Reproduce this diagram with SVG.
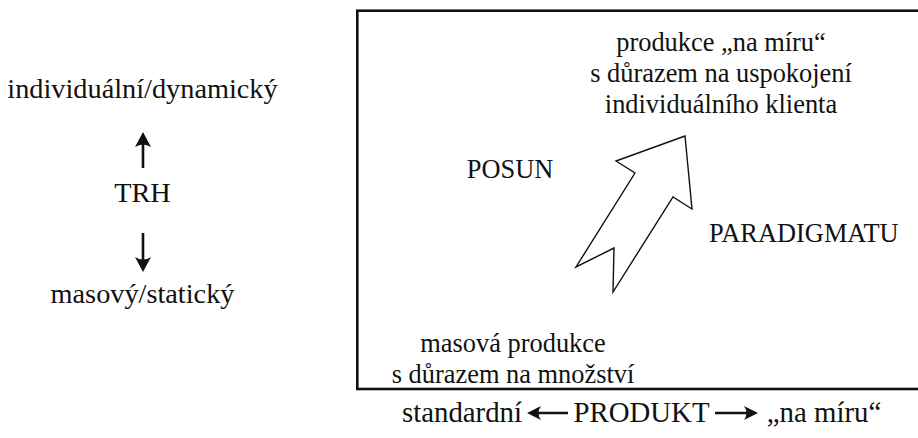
<svg xmlns="http://www.w3.org/2000/svg" width="918" height="438" viewBox="0 0 918 438">
<style>
.t{font-family:'Liberation Serif','Times New Roman',serif;font-size:28.3px;fill:#111;text-anchor:middle}
.n{font-size:26.4px}
.b{font-size:28.8px}
.ln{stroke:#111;fill:none}
.hd{fill:#111;stroke:none}
</style>
<rect width="918" height="438" fill="#fff"/>
<g id="frame"><rect x="357.3" y="10.7" width="570" height="378.3" class="ln" stroke-width="2.6"/></g>
<g id="left-axis" class="t">
<text x="142.5" y="98">individuální/dynamický</text>
<text x="142.5" y="202">TRH</text>
<text x="142.5" y="303">masový/statický</text>
</g>
<g id="bottom-axis" class="t b">
<text x="462" y="422">standardní</text>
<text x="641.5" y="422">PRODUKT</text>
<text x="824" y="422">„na míru“</text>
</g>
<g id="top-node" class="t n">
<text x="721" y="51">produkce „na míru“</text>
<text x="721" y="82">s důrazem na uspokojení</text>
<text x="721" y="113">individuálního klienta</text>
</g>
<g id="bottom-node" class="t n">
<text x="513" y="352">masová produkce</text>
<text x="513" y="383">s důrazem na množství</text>
</g>
<g id="posun" class="t n"><text x="510" y="178">POSUN</text></g>
<g id="paradigmatu" class="t n"><text x="709" y="242" text-anchor="start">PARADIGMATU</text></g>
<g id="shift-arrow"><polygon points="685,136 616,161 635,173 576,267 614,248 613,292 673,197 692,209" fill="#fff" stroke="#111" stroke-width="1.4" stroke-linejoin="miter"/></g>
<g id="connectors">
<path class="ln" stroke-width="2.6" d="M143,168 V140"/>
<path class="hd" d="M143,132 L151,147 Q143,142 135,147 Z"/>
<path class="ln" stroke-width="2.6" d="M143,233 V264"/>
<path class="hd" d="M143,272 L151,257 Q143,262 135,257 Z"/>
<path class="ln" stroke-width="2.4" d="M568,413 H533"/>
<path class="hd" d="M527,413 L541,406 Q536,413 541,420 Z"/>
<path class="ln" stroke-width="2.4" d="M715,413 H752"/>
<path class="hd" d="M758,413 L744,406 Q749,413 744,420 Z"/>
</g>
</svg>
